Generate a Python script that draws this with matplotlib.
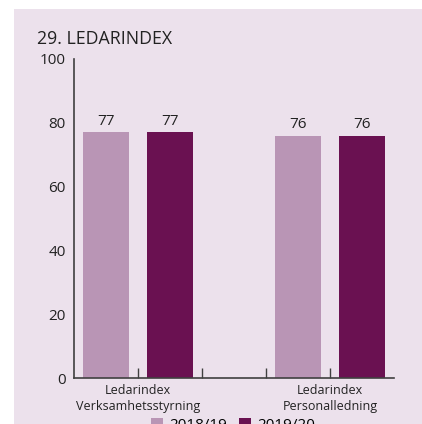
import matplotlib
matplotlib.use("Agg")
import matplotlib.pyplot as plt
from matplotlib.patches import Rectangle, Patch

categories = ["Ledarindex\nVerksamhetsstyrning", "Ledarindex\nPersonalledning"]
series_names = ["2018/19", "2019/20"]
values_2018 = [77, 76]
values_2019 = [77, 76]
colors = ["#B995B5", "#6A1151"]

plt.rcParams['font.family'] = ['Open Sans', 'DejaVu Sans']

W, H = 422, 424
fig = plt.figure(figsize=(W/100, H/100), dpi=100, facecolor="white")
bg = Rectangle((14/W, 0), 1 - 14/W, 1 - 9/H, transform=fig.transFigure,
               facecolor="#ECE1EC", edgecolor="none", zorder=-10)
fig.add_artist(bg)

ax = fig.add_axes([74/W, 46/H, 320/W, 319/H])
ax.set_facecolor("none")
ax.set_zorder(1)

# slots: group 0 -> slots 0,1 ; group 1 -> slots 3,4
slot_pos = [(0.5, 1.5), (3.5, 4.5)]
bw = 46/64
for i, (a, b) in enumerate(slot_pos):
    for pos, val, c in ((a, values_2018[i], colors[0]), (b, values_2019[i], colors[1])):
        ax.bar(pos, val, width=bw, color=c, zorder=2)
        ax.text(pos, val + 1.2, f"{val}", ha="center", va="bottom", fontsize=11, color="#222222")

ax.set_xlim(0, 5)
ax.set_ylim(0, 100)
ax.set_yticks([0, 20, 40, 60, 80, 100])
ax.tick_params(axis="y", length=0, labelsize=11, pad=6, colors="#222222")
ax.set_xticks([1, 2, 3, 4])
ax.set_xticklabels([categories[0], "", "", categories[1]], fontsize=9, color="#222222", linespacing=1.3)
ax.tick_params(axis="x", direction="in", length=7, width=1, color="#404040", pad=4)
for s in ("top", "right"):
    ax.spines[s].set_visible(False)
for s in ("left", "bottom"):
    ax.spines[s].set_color("#404040")
    ax.spines[s].set_linewidth(1.2)

fig.text(37/W, 1 - 44/H, "29. LEDARINDEX", fontsize=12.8, color="#222222", ha="left", va="baseline")

handles = [Patch(facecolor=colors[0]), Patch(facecolor=colors[1])]
fig.legend(handles, series_names, loc="center", bbox_to_anchor=(233/W, -1.5/H), ncol=2,
           frameon=False, fontsize=11, handlelength=0.8, handleheight=0.8,
           handletextpad=0.4, columnspacing=0.8, borderpad=0)

fig.savefig("out.png", dpi=100, facecolor=fig.get_facecolor())
